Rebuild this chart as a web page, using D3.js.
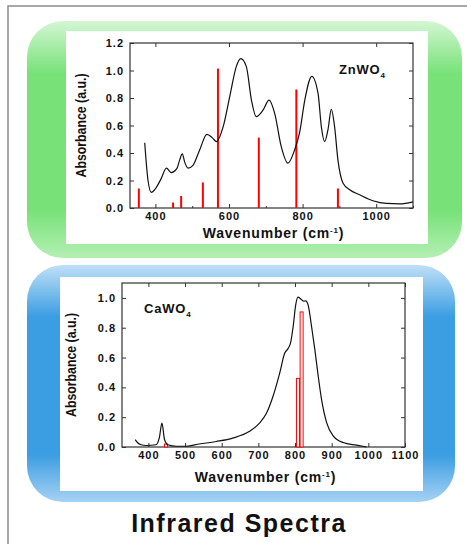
<!DOCTYPE html>
<meta charset="utf-8">
<script src="https://d3js.org/d3.v7.min.js"></script>
<style>
  body { margin: 0; background: #fff; }
  text { font-family: Arial, "Liberation Sans", sans-serif; font-weight: bold; fill: #111; }
</style>
<div id="my_dataviz"></div>
<script>

// ZnWO4 measured spectrum
var znWave = [371, 380, 389, 400, 415, 430, 443, 459, 466, 473, 480, 489, 502, 520, 540, 555, 566, 584, 602, 620, 632, 647, 661, 674, 692, 709, 724, 742, 760, 778, 792, 806, 825, 842, 851, 860, 869, 878, 887, 896, 910, 928, 955, 991, 1028, 1064, 1100];
var znAbs  = [0.475, 0.2, 0.113, 0.14, 0.21, 0.29, 0.258, 0.29, 0.35, 0.393, 0.33, 0.29, 0.31, 0.42, 0.536, 0.51, 0.483, 0.59, 0.81, 1.03, 1.087, 1.03, 0.785, 0.664, 0.71, 0.785, 0.69, 0.446, 0.326, 0.42, 0.55, 0.785, 0.958, 0.833, 0.59, 0.483, 0.57, 0.717, 0.59, 0.35, 0.18, 0.133, 0.096, 0.053, 0.033, 0.03, 0.045];
// ZnWO4 calculated modes
var znModes = [355, 448, 470, 529, 570, 681, 783, 896];
var znModeAbs = [0.142, 0.04, 0.087, 0.186, 1.014, 0.512, 0.862, 0.142];

// CaWO4 measured spectrum
var caWave = [364, 370, 380, 394, 421, 430, 437, 444, 453, 476, 503, 539, 585, 630, 676, 703, 722, 740, 758, 772, 781, 788, 795, 802, 808, 817, 824, 829, 836, 845, 854, 863, 872, 886, 904, 931, 968, 995];
var caAbs  = [0.049, 0.03, 0.015, 0.01, 0.015, 0.065, 0.16, 0.05, 0.015, 0.005, 0.005, 0.02, 0.037, 0.06, 0.105, 0.16, 0.226, 0.34, 0.494, 0.63, 0.66, 0.70, 0.81, 0.955, 1.005, 0.99, 0.978, 0.98, 0.95, 0.81, 0.655, 0.48, 0.325, 0.165, 0.075, 0.03, 0.012, 0.0];
// CaWO4 calculated modes
var caModes = [448, 808, 818];
var caModeAbs = [0.02, 0.46, 0.906];

var svg = d3.select("#my_dataviz")
    .append("svg")
    .attr("width", 467)
    .attr("height", 544);

var defs = svg.append("defs");

function glossy(id, light, base, bottom) {
    var g = defs.append("linearGradient").attr("id", id)
        .attr("x1", 0).attr("y1", 0).attr("x2", 0).attr("y2", 1);
    g.append("stop").attr("offset", "0%").attr("stop-color", light);
    g.append("stop").attr("offset", "22%").attr("stop-color", base);
    g.append("stop").attr("offset", "80%").attr("stop-color", base);
    g.append("stop").attr("offset", "100%").attr("stop-color", bottom);
}
glossy("greenGrad", "#d4f6d4", "#78e278", "#b4efb4");
glossy("blueGrad", "#bfe0f7", "#3b9de2", "#a6d2f4");

// outer frame
svg.append("rect")
    .attr("x", 8).attr("y", 6).attr("width", 480).attr("height", 560)
    .style("fill", "none").style("stroke", "#8c8c8c").style("stroke-width", 1.5);

// panels
svg.append("rect").attr("x", 27).attr("y", 21).attr("width", 435).attr("height", 237)
    .attr("rx", 36).style("fill", "url(#greenGrad)");
svg.append("rect").attr("x", 66).attr("y", 31).attr("width", 362).attr("height", 213)
    .style("fill", "#fff");

svg.append("rect").attr("x", 27).attr("y", 265).attr("width", 428).attr("height", 237)
    .attr("rx", 36).style("fill", "url(#blueGrad)");
svg.append("rect").attr("x", 60).attr("y", 277).attr("width", 363).attr("height", 214)
    .style("fill", "#fff");

function drawChart(opt) {
    var g = svg.append("g");
    var x = d3.scaleLinear().domain(opt.xDomain).range([opt.left, opt.right]);
    var y = d3.scaleLinear().domain(opt.yDomain).range([opt.bottom, opt.top]);
    var w = opt.right - opt.left, h = opt.bottom - opt.top;

    // axes with inward ticks, Origin style
    g.append("g").attr("transform", "translate(0," + opt.bottom + ")")
        .call(d3.axisBottom(x).tickValues(opt.xMinor).tickSize(-2).tickFormat(""));
    g.append("g").attr("transform", "translate(0," + opt.bottom + ")")
        .call(d3.axisBottom(x).tickValues(opt.xTicks).tickSize(-4).tickPadding(4)
            .tickFormat(d3.format("d")));
    g.append("g").attr("transform", "translate(0," + opt.top + ")")
        .call(d3.axisTop(x).tickValues(opt.xTicks).tickSize(-4).tickFormat(""));
    g.append("g").attr("transform", "translate(" + opt.left + ",0)")
        .call(d3.axisLeft(y).tickValues(opt.yTicks).tickSize(-4).tickPadding(6)
            .tickFormat(d3.format(".1f")));
    g.append("g").attr("transform", "translate(" + opt.right + ",0)")
        .call(d3.axisRight(y).tickValues(opt.yTicks).tickSize(-4).tickFormat(""));
    g.selectAll(".domain").remove();
    g.selectAll(".tick line").attr("stroke", "#333");
    g.selectAll(".tick text").style("font-size", "11px").style("font-family", "Arial, 'Liberation Sans', sans-serif")
        .style("font-weight", "bold").style("letter-spacing", "1px").attr("fill", "#111");

    g.append("rect").attr("x", opt.left).attr("y", opt.top).attr("width", w).attr("height", h)
        .style("fill", "none").style("stroke", "#333").style("stroke-width", 1.2);

    // calculated modes
    opt.modes.forEach(function(m, i) {
        if (opt.hollow) {
            g.append("rect").attr("x", x(m) - 1.5).attr("y", y(opt.modeAbs[i]))
                .attr("width", 3).attr("height", opt.bottom - y(opt.modeAbs[i]))
                .style("fill", "#fff").style("stroke", "#f00").style("stroke-width", 1);
        } else {
            g.append("line").attr("x1", x(m)).attr("x2", x(m))
                .attr("y1", opt.bottom).attr("y2", y(opt.modeAbs[i]))
                .style("stroke", "#f00").style("stroke-width", 2);
        }
    });

    // measured spectrum
    var pts = opt.wave.map(function(d, i) { return [d, opt.abs[i]]; });
    g.append("path").datum(pts)
        .attr("d", d3.line().x(function(d) { return x(d[0]); }).y(function(d) { return y(d[1]); })
            .curve(d3.curveMonotoneX))
        .style("fill", "none").style("stroke", "#111").style("stroke-width", 1.2);

    // labels
    g.append("text")
        .attr("transform", "translate(" + opt.yLabelX + "," + (opt.top + h / 2) + ") rotate(-90)")
        .attr("text-anchor", "middle").style("font-size", "14px")
        .attr("textLength", 104).attr("lengthAdjust", "spacingAndGlyphs")
        .text("Absorbance (a.u.)");
    var xl = g.append("text").attr("x", opt.left + w / 2 + 2).attr("y", opt.xLabelY)
        .attr("text-anchor", "middle").style("font-size", "14px").style("letter-spacing", "0.8px");
    xl.append("tspan").text("Wavenumber (cm");
    xl.append("tspan").attr("dy", -5).style("font-size", "8px").text("-1");
    xl.append("tspan").attr("dy", 5).text(")");

    var nl = g.append("text").attr("x", opt.nameX).attr("y", opt.nameY)
        .style("font-size", "13px").style("letter-spacing", "0.8px");
    nl.append("tspan").text(opt.name);
    nl.append("tspan").attr("dy", 4).style("font-size", "8px").text("4");
}

drawChart({
    left: 130, right: 413, top: 43, bottom: 208,
    xDomain: [331, 1100], yDomain: [0, 1.2],
    xTicks: [400, 600, 800, 1000], xMinor: [500, 700, 900, 1100],
    yTicks: [0, 0.2, 0.4, 0.6, 0.8, 1.0, 1.2],
    wave: znWave, abs: znAbs, modes: znModes, modeAbs: znModeAbs, hollow: false,
    yLabelX: 86, xLabelY: 238, name: "ZnWO", nameX: 339, nameY: 74
});

drawChart({
    left: 122, right: 405, top: 283, bottom: 447,
    xDomain: [328, 1100], yDomain: [0, 1.1],
    xTicks: [400, 500, 600, 700, 800, 900, 1000, 1100], xMinor: [],
    yTicks: [0, 0.2, 0.4, 0.6, 0.8, 1.0],
    wave: caWave, abs: caAbs, modes: caModes, modeAbs: caModeAbs, hollow: true,
    yLabelX: 76, xLabelY: 482, name: "CaWO", nameX: 144, nameY: 313
});

svg.append("text").attr("x", 239).attr("y", 532).attr("text-anchor", "middle")
    .style("font-size", "25px").style("letter-spacing", "1.5px").text("Infrared Spectra");

</script>
